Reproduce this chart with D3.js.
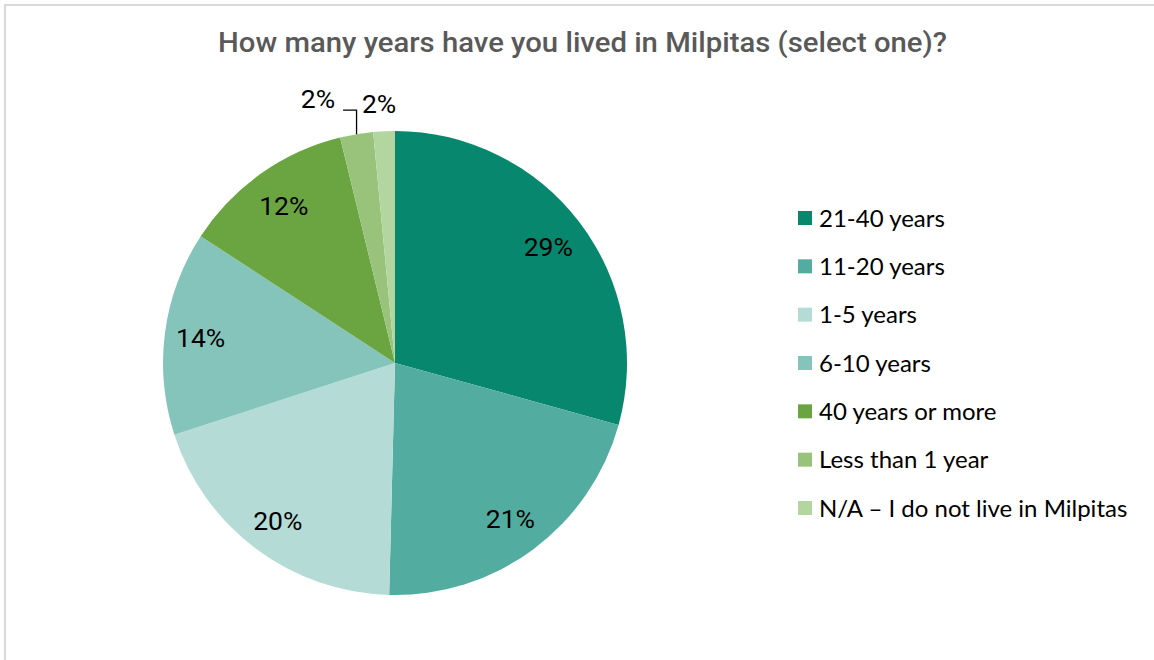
<!DOCTYPE html>
<html><head><meta charset="utf-8">
<script src="https://cdn.jsdelivr.net/npm/d3@7"></script>
<style>body{margin:0;background:#fff;}svg{display:block;}</style>
</head><body>
<svg id="chart" width="1154" height="660"></svg>
<script>
const title = "How many years have you lived in Milpitas (select one)?";
const categories = ["21-40 years","11-20 years","1-5 years","6-10 years","40 years or more","Less than 1 year","N/A – I do not live in Milpitas"];
const values = [29.3, 21.1, 19.6, 14.2, 12.0, 2.3, 1.5];
const labels = ["29%","21%","20%","14%","12%","2%","2%"];
const colors = ["#08876f","#52ac9f","#b5dbd7","#85c4bb","#6aa542","#99c37b","#b3d6a1"];

const svg = d3.select("#chart");
// border
svg.append("path").attr("d","M5,660 V5 H1154").attr("fill","none").attr("stroke","#d9d9d9").attr("stroke-width",2);

svg.append("text").attr("x",218).attr("y",52)
  .attr("font-family","Roboto").attr("font-weight",500).attr("font-size",28.5).attr("fill","#595959")
  .attr("textLength",729).attr("lengthAdjust","spacingAndGlyphs").text(title);

const cx=395, cy=363, R=232;
const pie = d3.pie().sort(null).value(d=>d);
const arcs = pie(values);
const arc = d3.arc().innerRadius(0).outerRadius(R);
const g = svg.append("g").attr("transform",`translate(${cx},${cy})`);
g.selectAll("path.s").data(arcs).enter().append("path").attr("class","s")
  .attr("d",arc).attr("fill",(d,i)=>colors[i]);

const FS = 26.5;
const labelR = [0.83,0.835,0.845,0.845,0.83];
arcs.forEach((a,i)=>{
  const m=(a.startAngle+a.endAngle)/2;
  if(i<5){
    const r=R*labelR[i];
    g.append("text").attr("x",r*Math.sin(m)).attr("y",-r*Math.cos(m)).attr("dy","0.36em")
      .attr("text-anchor","middle").attr("font-family","Roboto").attr("font-size",FS).attr("fill","#000").text(labels[i]);
  }
});
// small slices
{
  const a=arcs[5], m=(a.startAngle+a.endAngle)/2;
  const ex=R*Math.sin(m), ey=-R*Math.cos(m);
  g.append("path").attr("d",`M${ex},${ey} V${ey-24} H${ex-13.5}`).attr("fill","none").attr("stroke","#000").attr("stroke-width",1.3);
  g.append("text").attr("x",ex-21.5).attr("y",ey-26).attr("text-anchor","end")
    .attr("font-family","Roboto").attr("font-size",FS).text(labels[5]);
}
{
  const a=arcs[6], m=(a.startAngle+a.endAngle)/2;
  const ex=R*Math.sin(m), ey=-R*Math.cos(m);
  g.append("text").attr("x",ex-5).attr("y",ey-18).attr("text-anchor","middle")
    .attr("font-family","Roboto").attr("font-size",FS).text(labels[6]);
}

// legend
const ly = d3.scalePoint().domain(categories).range([218,508]);
const leg = svg.append("g");
categories.forEach((c,i)=>{
  leg.append("rect").attr("x",798).attr("y",ly(c)-7).attr("width",14).attr("height",14).attr("fill",colors[i]);
  leg.append("text").attr("x",819).attr("y",ly(c)).attr("dy","0.36em")
    .attr("font-family","Lato").attr("font-size",24).attr("fill","#000").text(c);
});
</script>
</body></html>
